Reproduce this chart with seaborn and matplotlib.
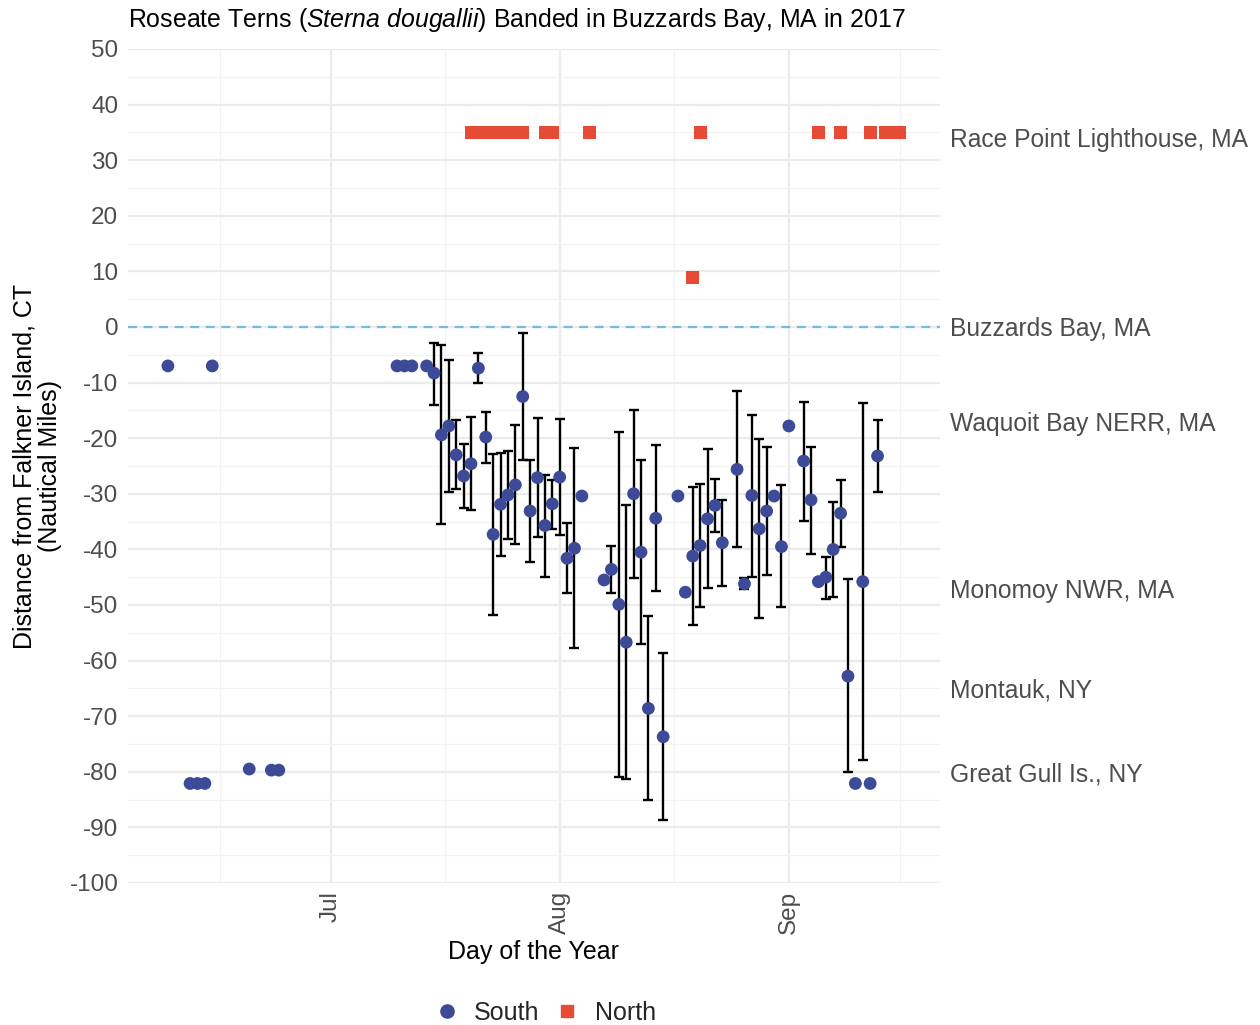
import numpy as np
import pandas as pd
import seaborn as sns
import matplotlib.pyplot as plt
import matplotlib.dates as mdates
from matplotlib.lines import Line2D

# South-bound resightings: date, distance, error range (nan = no bar)
south_dates = ['2017-06-09', '2017-06-12', '2017-06-13', '2017-06-14', '2017-06-15',
               '2017-06-20', '2017-06-23', '2017-06-24', '2017-07-10', '2017-07-11',
               '2017-07-12', '2017-07-14', '2017-07-15', '2017-07-16', '2017-07-17',
               '2017-07-18', '2017-07-19', '2017-07-20', '2017-07-21', '2017-07-22',
               '2017-07-23', '2017-07-24', '2017-07-25', '2017-07-26', '2017-07-27',
               '2017-07-28', '2017-07-29', '2017-07-30', '2017-07-31', '2017-08-01',
               '2017-08-02', '2017-08-03', '2017-08-04', '2017-08-07', '2017-08-08',
               '2017-08-09', '2017-08-10', '2017-08-11', '2017-08-12', '2017-08-13',
               '2017-08-14', '2017-08-15', '2017-08-17', '2017-08-18', '2017-08-19',
               '2017-08-20', '2017-08-21', '2017-08-22', '2017-08-23', '2017-08-25',
               '2017-08-26', '2017-08-27', '2017-08-28', '2017-08-29', '2017-08-30',
               '2017-08-31', '2017-09-01', '2017-09-03', '2017-09-04', '2017-09-05',
               '2017-09-06', '2017-09-07', '2017-09-08', '2017-09-09', '2017-09-10',
               '2017-09-11', '2017-09-12', '2017-09-13']
south_dist = [-7, -82.1, -82.1, -82.1, -7,
              -79.5, -79.7, -79.7, -7, -7,
              -7, -7, -8.3, -19.4, -17.8,
              -23.0, -26.8, -24.6, -7.4, -19.8,
              -37.3, -31.9, -30.2, -28.4, -12.5,
              -33.1, -27.1, -35.7, -31.8, -27.0,
              -41.6, -39.8, -30.4, -45.5, -43.6,
              -49.9, -56.7, -30.0, -40.5, -68.6,
              -34.4, -73.7, -30.4, -47.7, -41.2,
              -39.3, -34.5, -32.1, -38.8, -25.6,
              -46.2, -30.3, -36.3, -33.1, -30.4,
              -39.5, -17.8, -24.1, -31.1, -45.8,
              -45.0, -40.0, -33.5, -62.8, -82.1,
              -45.8, -82.1, -23.2]
nan = np.nan
south_lo = [nan, nan, nan, nan, nan,
            nan, nan, nan, nan, nan,
            nan, nan, -14.0, -35.5, -29.7,
            -29.2, -32.6, -32.9, -10.1, -24.4,
            -51.8, -41.1, -38.2, -39.1, -23.9,
            -42.2, -37.7, -44.9, -36.3, -37.5,
            -47.9, -57.8, nan, nan, -47.8,
            -81.0, -81.3, -45.2, -57.0, -85.1,
            -47.4, -88.7, nan, nan, -53.6,
            -50.3, -47.0, -36.9, -46.6, -39.6,
            -47.2, -45.0, -52.4, -44.6, nan,
            -50.4, nan, -34.9, -40.8, nan,
            -48.9, -48.6, -39.6, -80.1, nan,
            -77.9, nan, -29.6]
south_hi = [nan, nan, nan, nan, nan,
            nan, nan, nan, nan, nan,
            nan, nan, -2.8, -3.2, -5.9,
            -16.7, -21.1, -16.2, -4.6, -15.2,
            -22.8, -22.7, -22.3, -17.6, -1.1,
            -24.0, -16.4, -26.6, -27.5, -16.6,
            -35.2, -21.7, nan, nan, -39.4,
            -18.8, -32.1, -14.9, -24.0, -52.0,
            -21.3, -58.7, nan, nan, -28.7,
            -28.3, -21.9, -27.3, -31.1, -11.6,
            -45.2, -15.8, -20.2, -21.5, nan,
            -28.5, nan, -13.4, -21.5, nan,
            -41.4, -31.4, -27.5, -45.4, nan,
            -13.7, nan, -16.8]

# North-bound resightings
north_dates = ['2017-07-20', '2017-07-21', '2017-07-22', '2017-07-23', '2017-07-24',
               '2017-07-25', '2017-07-26', '2017-07-27', '2017-07-30', '2017-07-31',
               '2017-08-05', '2017-08-19', '2017-08-20', '2017-09-05', '2017-09-08',
               '2017-09-12', '2017-09-14', '2017-09-15', '2017-09-16']
north_dist = [35, 35, 35, 35, 35, 35, 35, 35, 35, 35,
              35, 8.9, 35, 35, 35, 35, 35, 35, 35]

site_names = ['Race Point Lighthouse, MA', 'Buzzards Bay, MA', 'Waquoit Bay NERR, MA',
              'Monomoy NWR, MA', 'Montauk, NY', 'Great Gull Is., NY']
site_dist = [34, 0, -17, -47, -65, -80]

south = pd.DataFrame({'date': pd.to_datetime(south_dates), 'dist': south_dist,
                      'lo': south_lo, 'hi': south_hi, 'Direction': 'South'})
north = pd.DataFrame({'date': pd.to_datetime(north_dates), 'dist': north_dist,
                      'Direction': 'North'})
birds = pd.concat([south, north], ignore_index=True)

blue = '#3C4A97'
red = '#E64B35'
grey = '#4D4D4D'

sns.set_theme(style='whitegrid')
plt.rcParams['font.family'] = ['Liberation Sans', 'DejaVu Sans']
plt.rcParams['mathtext.fontset'] = 'custom'
plt.rcParams['mathtext.rm'] = 'Liberation Sans'
plt.rcParams['mathtext.it'] = 'Liberation Sans:italic'

fig = plt.figure(figsize=(12.6, 10.25), dpi=100)
ax = fig.add_axes([128 / 1260, 1 - 883 / 1025, 812 / 1260, 834 / 1025])

# error bars first, points on top
bars = south.dropna(subset=['lo'])
ax.errorbar(bars['date'], bars['dist'],
            yerr=[bars['dist'] - bars['lo'], bars['hi'] - bars['dist']],
            fmt='none', ecolor='black', elinewidth=1.7, capsize=3.5, capthick=1.7,
            zorder=2)

sns.scatterplot(data=birds, x='date', y='dist', hue='Direction', style='Direction',
                hue_order=['South', 'North'], style_order=['South', 'North'],
                palette={'South': blue, 'North': red},
                markers={'South': 'o', 'North': 's'}, s=85, linewidth=0,
                legend=False, ax=ax, zorder=3)

ax.axhline(0, color='#74BCDB', linestyle=(0, (4, 3)), linewidth=1.6, zorder=1)

# site names at the right of the panel
for name, d in zip(site_names, site_dist):
    ax.text(1.012, d, name, transform=ax.get_yaxis_transform(), ha='left',
            va='center_baseline', fontsize=17.75, color=grey, clip_on=False)

x0 = pd.Timestamp('2017-07-01')
ax.set_xlim(x0 - pd.Timedelta(days=27.4), x0 + pd.Timedelta(days=82.45))
ax.set_ylim(-100, 50)

ax.xaxis.set_major_locator(mdates.MonthLocator(bymonth=[7, 8, 9]))
ax.xaxis.set_major_formatter(mdates.DateFormatter('%b'))
minor_days = pd.to_datetime(['2017-06-16', '2017-07-16', '2017-08-16', '2017-09-16'])
minor_days = minor_days + pd.to_timedelta([0, 12, 12, 0], unit='h')
ax.set_xticks(minor_days, minor=True)
ax.set_yticks(np.arange(-100, 51, 10))
ax.set_yticks(np.arange(-95, 50, 10), minor=True)
ax.set_yticklabels([str(v) for v in range(-100, 51, 10)])

ax.grid(which='major', color='#EBEBEB', linewidth=1.6)
ax.grid(which='minor', color='#F2F2F2', linewidth=0.9)
ax.set_axisbelow(True)
for s in ax.spines.values():
    s.set_visible(False)
ax.set_facecolor('white')
ax.tick_params(axis='both', which='both', length=0, labelsize=17.5, labelcolor=grey)
ax.tick_params(axis='x', rotation=90, pad=6)
ax.tick_params(axis='y', pad=7)

ax.set_xlabel('Day of the Year', fontsize=18, color='black', labelpad=4)
ax.set_ylabel('Distance from Falkner Island, CT\n(Nautical Miles)', fontsize=18,
              color='black', labelpad=5, linespacing=1.1)

fig.text(128 / 1260, 1 - 20 / 1025,
         r'Roseate Terns ($\mathit{Sterna\ dougallii}$) Banded in Buzzards Bay, MA in 2017',
         ha='left', va='center', fontsize=17.9, color='black')

handles = [Line2D([], [], marker='o', linestyle='none', color=blue, markersize=9.5),
           Line2D([], [], marker='s', linestyle='none', color=red, markersize=8)]
fig.legend(handles, ['South', 'North'], loc='center', ncol=2, frameon=False,
           fontsize=18, bbox_to_anchor=(545 / 1260, 1 - 1013 / 1025),
           handlelength=1.0, handletextpad=0.6, columnspacing=0.6)

fig.savefig('out.png', dpi=100, facecolor='white')
